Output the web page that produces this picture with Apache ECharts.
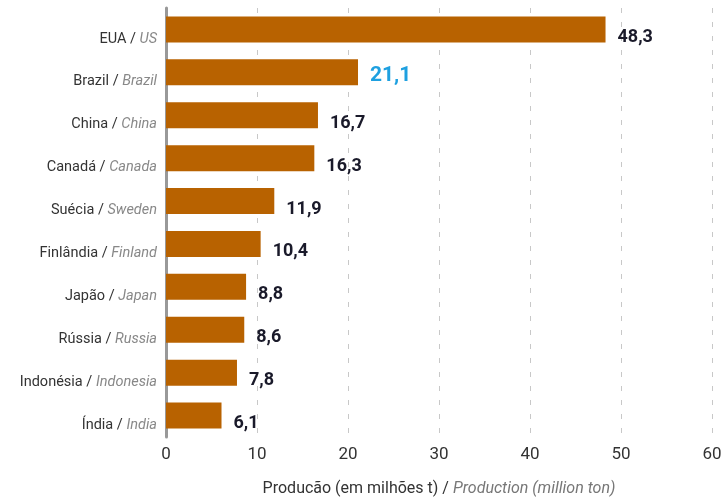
<!DOCTYPE html>
<html><head><meta charset="utf-8">
<script src="https://cdn.jsdelivr.net/npm/echarts@6/dist/echarts.min.js"></script>
<style>html,body{margin:0;padding:0;background:#fff}#c{width:721px;height:497px}</style>
</head><body><div id="c"></div>
<script>
const countriesPt = ['EUA','Brazil','China','Canadá','Suécia','Finlândia','Japão','Rússia','Indonésia','Índia'];
const countriesEn = ['US','Brazil','China','Canada','Sweden','Finland','Japan','Russia','Indonesia','India'];
const values = [48.3,21.1,16.7,16.3,11.9,10.4,8.8,8.6,7.8,6.1];
const xTicks = [0,10,20,30,40,50,60];

const cats = countriesPt.map((p,i)=>p+'|'+countriesEn[i]);
const chart = echarts.init(document.getElementById('c'));
chart.setOption({
  animation:false,
  grid:{left:166,right:9,top:8,bottom:60,containLabel:false,outerBoundsMode:'none'},
  xAxis:{type:'value',min:xTicks[0],max:xTicks[xTicks.length-1],interval:10,
    axisLine:{show:false},axisTick:{show:false},
    axisLabel:{color:'#333',fontSize:17,fontFamily:'Roboto',margin:9},
    splitLine:{show:true,lineStyle:{color:'#c8c8c8',type:[5,9],width:1}},
    name:'Producão (em milhões t) / {i|Production (million ton)}',
    nameLocation:'middle',nameGap:44,
    nameTextStyle:{color:'#333',fontSize:16,fontFamily:'Roboto',
      rich:{i:{fontStyle:'italic',color:'#777',fontSize:16,fontFamily:'Roboto'}}}
  },
  yAxis:{type:'category',data:cats,inverse:true,
    axisLine:{show:true,lineStyle:{color:'#999',width:3}},
    axisTick:{show:false},
    axisLabel:{margin:9,padding:[19,0,0,0],formatter:v=>{const [a,b]=v.split('|');return '{a|'+a+' / }{b|'+b+'}';},
      rich:{a:{color:'#333',fontSize:14.5,fontFamily:'Roboto'},b:{color:'#888',fontStyle:'italic',fontSize:14.5,fontFamily:'Roboto'}}}
  },
  series:[{type:'bar',data:values.map((v,i)=>({value:v,label:i===1?{color:'#1ea0e0',fontSize:21,offset:[0,3]}:undefined})),
    barWidth:26,itemStyle:{color:'#b86200'},
    label:{show:true,position:'right',distance:12,offset:[0,8],color:'#1a1a2a',fontWeight:'bold',fontSize:18,fontFamily:'Roboto',
      formatter:p=>String(p.value).replace('.',',')}
  }]
});
</script></body></html>
